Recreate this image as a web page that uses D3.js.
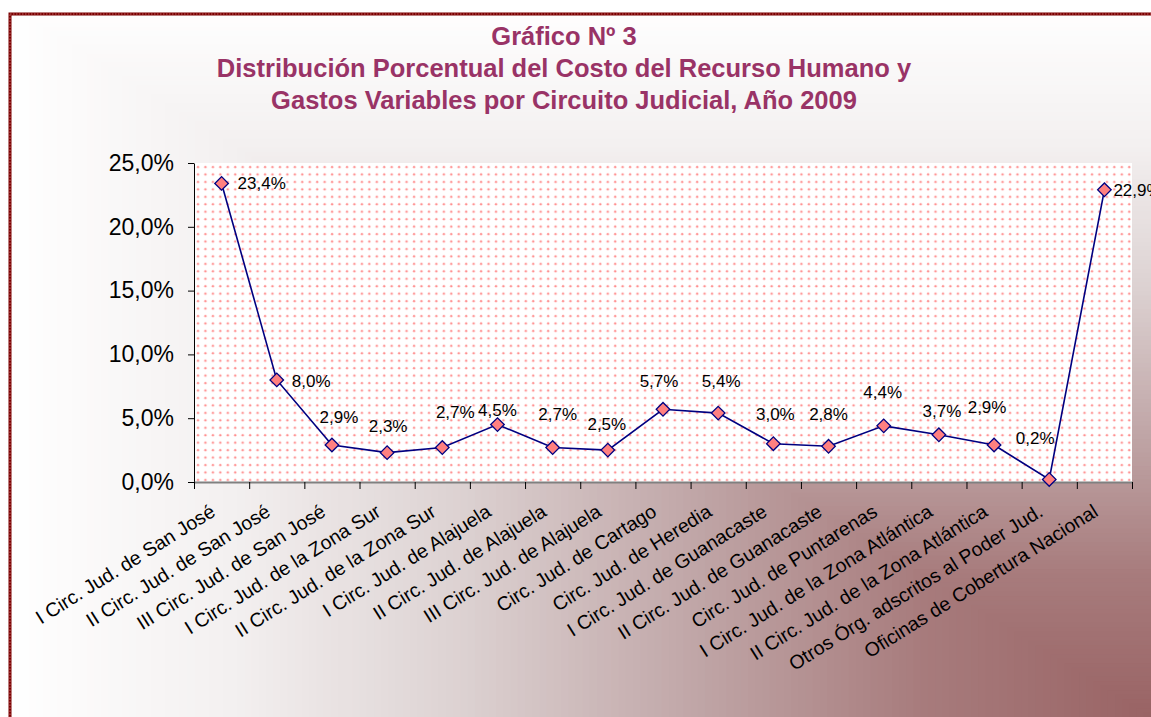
<!DOCTYPE html>
<html>
<head>
<meta charset="UTF-8">
<title>Gráfico Nº 3</title>
<script src="https://d3js.org/d3.v7.min.js"></script>
<style>
    body { margin: 0; background: #fff; }
    svg text { font-family: "Liberation Sans", Arial, sans-serif; }
    .title { font-size: 25.5px; font-weight: bold; fill: #993366; text-anchor: middle; }
    .y-axis text { font-size: 23px; fill: #000; }
    .y-axis path, .y-axis line { stroke: #000; }
    .x-axis line { stroke: #000; }
    .x-axis path { stroke: #808080; stroke-width: 2px; }
    .cat-label { font-size: 19.5px; fill: #000; text-anchor: end; }
    .val-label { font-size: 17px; fill: #000; }
</style>
</head>
<body>
<script>
// Data
const categories = [
    "I Circ. Jud. de San José",
    "II Circ. Jud. de San José",
    "III Circ. Jud. de San José",
    "I Circ. Jud. de la Zona Sur",
    "II Circ. Jud. de la Zona Sur",
    "I Circ. Jud. de Alajuela",
    "II Circ. Jud. de Alajuela",
    "III Circ. Jud. de Alajuela",
    "Circ. Jud. de Cartago",
    "Circ. Jud. de Heredia",
    "I Circ. Jud. de Guanacaste",
    "II Circ. Jud. de Guanacaste",
    "Circ. Jud. de Puntarenas",
    "I Circ. Jud. de la Zona Atlántica",
    "II Circ. Jud. de la Zona Atlántica",
    "Otros Órg. adscritos al Poder Jud.",
    "Oficinas de Cobertura Nacional"
];
const values = [23.4, 8.0, 2.9, 2.3, 2.7, 4.5, 2.7, 2.5, 5.7, 5.4, 3.0, 2.8, 4.4, 3.7, 2.9, 0.2, 22.9];
const yTicks = [0, 5, 10, 15, 20, 25];
const titleLines = [
    "Gráfico Nº 3",
    "Distribución Porcentual del Costo del Recurso Humano y",
    "Gastos Variables por Circuito Judicial, Año 2009"
];

// label placement relative to each marker: [dx, dy, anchor]
const labelPlace = [
    [16, 6, "start"], [15, 7, "start"], [7, -22, "middle"], [1, -21, "middle"],
    [13, -30, "middle"], [0, -9, "middle"], [5, -28, "middle"], [-1, -20, "middle"],
    [-4, -22, "middle"], [3, -26, "middle"], [2, -24, "middle"], [0, -26, "middle"],
    [-1, -28, "middle"], [3, -18, "middle"], [-7, -32, "middle"], [-14, -35, "middle"],
    [9, 6, "start"]
];

const W = 1151, H = 717;
const plot = { left: 194, right: 1132, top: 163, bottom: 482 };
const fmt = v => v.toFixed(1).replace(".", ",") + "%";

const svg = d3.select("body").append("svg")
    .attr("width", W)
    .attr("height", H);

const defs = svg.append("defs");
defs.append("clipPath").attr("id", "frame")
    .append("rect").attr("x", 10).attr("y", 14).attr("width", W).attr("height", H);

const dots = defs.append("pattern")
    .attr("id", "dots")
    .attr("patternUnits", "userSpaceOnUse")
    .attr("x", plot.left + 2).attr("y", plot.top + 2)
    .attr("width", 7.45).attr("height", 7.45);
dots.append("rect").attr("width", 7.45).attr("height", 7.45).attr("fill", "#fff");
dots.append("circle").attr("cx", 2).attr("cy", 2).attr("r", 1.3).attr("fill", "#ffb0b0");
dots.append("circle").attr("cx", 2).attr("cy", 2).attr("r", 0.7).attr("fill", "#ff7f7f");

// corner gradient (dark at bottom right), drawn as nested rectangles
const shade = d3.scaleLinear()
    .domain([0, 0.2, 0.4, 0.6, 0.8, 1])
    .range(["#996364", "#a77b7c", "#c0a6a7", "#dcd1d1", "#f3f0f0", "#ffffff"]);
const steps = d3.range(160, -1, -1).map(i => i / 160);
svg.append("g").attr("clip-path", "url(#frame)")
    .selectAll("rect").data(steps).join("rect")
    .attr("x", t => W * (1 - t))
    .attr("y", t => H * (1 - t))
    .attr("width", t => W * t + 1)
    .attr("height", t => H * t + 1)
    .attr("fill", t => shade(t));

// border
svg.append("rect").attr("x", 10).attr("y", 14).attr("width", W + 10).attr("height", H + 10)
    .attr("fill", "none").attr("stroke", "#7a0000").attr("stroke-width", 3);
svg.append("rect").attr("x", 10).attr("y", 14).attr("width", W + 10).attr("height", H + 10)
    .attr("fill", "none").attr("stroke", "#c06060").attr("stroke-width", 1)
    .attr("stroke-dasharray", "1.5,1.5");

// title
svg.append("g").selectAll("text").data(titleLines).join("text")
    .attr("class", "title")
    .attr("x", 564)
    .attr("y", (d, i) => 45 + i * 32)
    .text(d => d);

// scales
const x = d3.scaleBand().domain(categories).range([plot.left, plot.right]);
const xEdge = d3.scaleLinear().domain([0, categories.length]).range([plot.left, plot.right]);
const y = d3.scaleLinear().domain([0, 25]).range([plot.bottom, plot.top]);
const cx = d => x(d) + x.bandwidth() / 2;

// plot area
svg.append("rect")
    .attr("x", plot.left).attr("y", plot.top)
    .attr("width", plot.right - plot.left).attr("height", plot.bottom - plot.top)
    .attr("fill", "url(#dots)");

// axes
svg.append("g")
    .attr("class", "y-axis")
    .attr("transform", `translate(${plot.left},0)`)
    .call(d3.axisLeft(y).tickValues(yTicks).tickFormat(fmt).tickSize(6).tickPadding(14).tickSizeOuter(0));

svg.append("g")
    .attr("class", "x-axis")
    .attr("transform", `translate(0,${plot.bottom})`)
    .call(d3.axisBottom(xEdge).tickValues(d3.range(categories.length + 1)).tickFormat("").tickSize(7).tickSizeOuter(0));

svg.append("g").selectAll("text").data(categories).join("text")
    .attr("class", "cat-label")
    .attr("transform", d => `translate(${cx(d) - 5},${plot.bottom + 33}) rotate(-32)`)
    .text(d => d);

// series
const pts = categories.map((c, i) => ({ c, v: values[i], i }));

svg.append("path")
    .datum(pts)
    .attr("fill", "none")
    .attr("stroke", "#000080")
    .attr("stroke-width", 1.6)
    .attr("d", d3.line().x(d => cx(d.c)).y(d => y(d.v)));

svg.append("g").selectAll("path").data(pts).join("path")
    .attr("transform", d => `translate(${cx(d.c)},${y(d.v)}) rotate(45)`)
    .attr("d", d3.symbol(d3.symbolSquare, 92))
    .attr("fill", "#ff8080")
    .attr("stroke", "#000080")
    .attr("stroke-width", 1.3);

svg.append("g").selectAll("text").data(pts).join("text")
    .attr("class", "val-label")
    .attr("x", d => cx(d.c) + labelPlace[d.i][0])
    .attr("y", d => y(d.v) + labelPlace[d.i][1])
    .attr("text-anchor", d => labelPlace[d.i][2])
    .text(d => fmt(d.v));
</script>
</body>
</html>
